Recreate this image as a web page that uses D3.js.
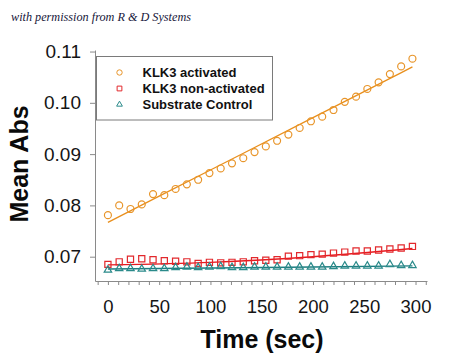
<!DOCTYPE html>
<html>
<head>
<meta charset="utf-8">
<script src="https://cdn.jsdelivr.net/npm/d3@7"></script>
<style>
  body { margin: 0; background: #fff; }
  #chart svg { display: block; }
</style>
</head>
<body>
<div id="chart"></div>
<script>
// Sampling times (sec)
const times = [0, 11, 22, 33, 44, 55, 66, 77, 88, 99, 110, 121, 132, 143,
  154, 165, 176, 187, 198, 209, 220, 231, 242, 253, 264, 275, 286, 297];

// Mean absorbance
const klk3Activated = [0.0781, 0.0800, 0.0793, 0.0802, 0.0822, 0.0820, 0.0832, 0.0841,
  0.0850, 0.0863, 0.0872, 0.0882, 0.0892, 0.0904, 0.0915, 0.0926, 0.0938, 0.0951,
  0.0964, 0.0973, 0.0986, 0.1002, 0.1012, 0.1027, 0.1040, 0.1056, 0.1071, 0.1086];
const klk3NonActivated = [0.0685, 0.0690, 0.0695, 0.0696, 0.0694, 0.0692, 0.0691, 0.0690,
  0.0687, 0.0689, 0.0688, 0.0689, 0.0690, 0.0692, 0.0693, 0.0694, 0.0701, 0.0702,
  0.0704, 0.0705, 0.0707, 0.0709, 0.0711, 0.0711, 0.0713, 0.0715, 0.0717, 0.0720];
const substrateControl = [0.0674, 0.0677, 0.0677, 0.0676, 0.0677, 0.0677, 0.0679, 0.0680,
  0.0679, 0.0680, 0.0681, 0.0679, 0.0679, 0.0680, 0.0680, 0.0680, 0.0680, 0.0680,
  0.0680, 0.0680, 0.0681, 0.0682, 0.0682, 0.0682, 0.0682, 0.0685, 0.0683, 0.0683];

// Fitted curves, a few points
const fitTimes = [0, 100, 200, 297];
const fitActivated = [0.0767, 0.0869, 0.0971, 0.1070];
const fitNonActivated = [0.0684, 0.0689, 0.0700, 0.0716];
const fitControl = [0.0676, 0.0678, 0.0680, 0.0682];

const seriesNames = ["KLK3 activated", "KLK3 non-activated", "Substrate Control"];
const yTicks = [0.07, 0.08, 0.09, 0.10, 0.11];

const series = [
  { name: seriesNames[0], values: klk3Activated, fit: fitActivated,
    symbol: d3.symbolCircle, size: 38, color: "#E8952A", lineColor: "#E98F1C", width: 1.3 },
  { name: seriesNames[1], values: klk3NonActivated, fit: fitNonActivated,
    symbol: d3.symbolSquare, size: 38, color: "#E2282C", lineColor: "#E8191E", width: 1.4 },
  { name: seriesNames[2], values: substrateControl, fit: fitControl,
    symbol: d3.symbolTriangle, size: 24, color: "#2A8A8A", lineColor: "#1E7E80", width: 1.4 }
];

const width = 450;
const height = 358;
const font = "Arial, 'Liberation Sans', sans-serif";

const svg = d3.select("#chart")
  .append("svg")
  .attr("width", width)
  .attr("height", height);

// Scales
const xScale = d3.scaleLinear()
  .domain([-12.6, 311.2])
  .range([95, 427]);

const yScale = d3.scaleLinear()
  .domain([0.06526, 0.1103])
  .range([281, 50]);

// Watermark
svg.append("text")
  .attr("x", 11)
  .attr("y", 20.5)
  .attr("textLength", 180)
  .attr("lengthAdjust", "spacingAndGlyphs")
  .style("font-family", "'Liberation Serif', 'DejaVu Serif', serif")
  .style("font-style", "italic")
  .style("font-size", "12.5px")
  .style("fill", "#16163a")
  .text("with permission from R & D Systems");

// X axis
const bottomAxis = d3.axisBottom(xScale)
  .tickValues(d3.range(-10, 311, 10))
  .tickSizeInner(4)
  .tickSizeOuter(0)
  .tickPadding(14.5)
  .tickFormat(d => (d >= 0 && d % 50 === 0) ? d : "");

const xAxisG = svg.append("g")
  .attr("transform", "translate(0, 281)")
  .call(bottomAxis);
xAxisG.select(".domain").attr("stroke", "#8a8a8a");
xAxisG.selectAll(".tick line").attr("stroke", "#8a8a8a");
xAxisG.selectAll("text")
  .style("font-family", font)
  .style("font-size", "18.5px")
  .style("fill", "#151515");

// Y axis
const leftAxis = d3.axisLeft(yScale)
  .tickValues(yTicks)
  .tickSizeInner(5)
  .tickSizeOuter(0)
  .tickPadding(9)
  .tickFormat(d3.format(".2f"));

const yAxisG = svg.append("g")
  .attr("transform", "translate(95, 0)")
  .call(leftAxis);
yAxisG.select(".domain").attr("stroke", "#8a8a8a");
yAxisG.selectAll(".tick line").attr("stroke", "#8a8a8a");
yAxisG.selectAll("text")
  .style("font-family", font)
  .style("font-size", "19px")
  .style("fill", "#151515");

// Axis titles
svg.append("text")
  .attr("x", 262)
  .attr("y", 348)
  .attr("text-anchor", "middle")
  .style("font-family", font)
  .style("font-weight", "bold")
  .style("font-size", "25px")
  .style("fill", "#0a0a0a")
  .text("Time (sec)");

svg.append("text")
  .attr("transform", "translate(28, 164) rotate(-90)")
  .attr("text-anchor", "middle")
  .style("font-family", font)
  .style("font-weight", "bold")
  .style("font-size", "25px")
  .style("fill", "#0a0a0a")
  .text("Mean Abs");

// Fit lines
const fitLine = d3.line()
  .x(d => xScale(d.t))
  .y(d => yScale(d.v))
  .curve(d3.curveMonotoneX);

svg.selectAll(".fit-line")
  .data(series)
  .join("path")
  .attr("class", "fit-line")
  .attr("fill", "none")
  .attr("stroke", d => d.lineColor)
  .attr("stroke-width", d => d.width)
  .attr("d", d => fitLine(fitTimes.map((t, i) => ({ t, v: d.fit[i] }))));

// Data markers
series.forEach(s => {
  svg.append("g")
    .selectAll("path")
    .data(times.map((t, i) => ({ t, v: s.values[i] })))
    .join("path")
    .attr("transform", d => `translate(${xScale(d.t)}, ${yScale(d.v)})`)
    .attr("d", d3.symbol(s.symbol, s.size))
    .attr("fill", "none")
    .attr("stroke", s.color)
    .attr("stroke-width", 1.2);
});

// Legend
const legend = svg.append("g")
  .attr("transform", "translate(96.5, 56.5)");

legend.append("rect")
  .attr("width", 176)
  .attr("height", 63.5)
  .attr("fill", "#fff")
  .attr("stroke", "#7a7a7a")
  .attr("stroke-width", 1);

series.forEach((s, i) => {
  const row = legend.append("g")
    .attr("transform", `translate(0, ${16 + i * 16})`);

  row.append("path")
    .attr("transform", "translate(23, 0)")
    .attr("d", d3.symbol(s.symbol, s.size * 0.6))
    .attr("fill", "none")
    .attr("stroke", s.color)
    .attr("stroke-width", 1);

  row.append("text")
    .attr("x", 46)
    .attr("y", 4.7)
    .style("font-family", font)
    .style("font-weight", "bold")
    .style("font-size", "13px")
    .style("fill", "#111")
    .text(s.name);
});
</script>
</body>
</html>
